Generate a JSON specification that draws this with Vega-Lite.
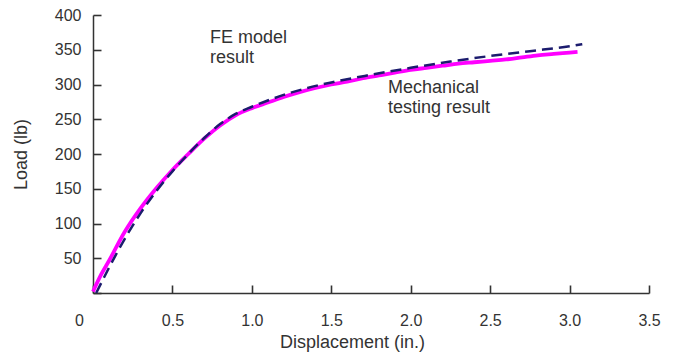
{
  "$schema": "https://vega.github.io/schema/vega-lite/v6.json",
  "width": 556,
  "height": 278,
  "autosize": "none",
  "padding": {"left": 93, "top": 15, "right": 25, "bottom": 71},
  "background": "white",
  "config": {
    "view": {"stroke": null},
    "font": "Liberation Sans",
    "axis": {"labelOverlap": false}
  },
  "datasets": {
    "test": [
      {"d": 0.0, "load": 2}, {"d": 0.05, "load": 26}, {"d": 0.1, "load": 46}, {"d": 0.2, "load": 88},
      {"d": 0.3, "load": 122}, {"d": 0.4, "load": 151}, {"d": 0.5, "load": 177}, {"d": 0.6, "load": 200},
      {"d": 0.7, "load": 222}, {"d": 0.8, "load": 241}, {"d": 0.9, "load": 256}, {"d": 1.0, "load": 266},
      {"d": 1.1, "load": 274}, {"d": 1.2, "load": 282}, {"d": 1.3, "load": 289}, {"d": 1.4, "load": 295},
      {"d": 1.5, "load": 300}, {"d": 1.6, "load": 304}, {"d": 1.7, "load": 309}, {"d": 1.8, "load": 313},
      {"d": 1.9, "load": 317}, {"d": 2.0, "load": 321}, {"d": 2.1, "load": 324}, {"d": 2.2, "load": 327},
      {"d": 2.3, "load": 330}, {"d": 2.4, "load": 332}, {"d": 2.5, "load": 334}, {"d": 2.6, "load": 336},
      {"d": 2.7, "load": 339}, {"d": 2.8, "load": 342}, {"d": 2.9, "load": 344}, {"d": 3.0, "load": 346},
      {"d": 3.05, "load": 347}
    ],
    "fe": [
      {"d": 0.02, "load": 0}, {"d": 0.1, "load": 36}, {"d": 0.2, "load": 78}, {"d": 0.3, "load": 115},
      {"d": 0.4, "load": 147}, {"d": 0.5, "load": 175}, {"d": 0.6, "load": 200}, {"d": 0.7, "load": 223},
      {"d": 0.8, "load": 243}, {"d": 0.9, "load": 258}, {"d": 1.0, "load": 268}, {"d": 1.1, "load": 277},
      {"d": 1.2, "load": 285}, {"d": 1.35, "load": 295}, {"d": 1.5, "load": 303}, {"d": 1.75, "load": 314},
      {"d": 2.0, "load": 324}, {"d": 2.25, "load": 333}, {"d": 2.5, "load": 341}, {"d": 2.75, "load": 348},
      {"d": 3.0, "load": 355}, {"d": 3.08, "load": 358}
    ],
    "labels": [
      {"d": 0.737, "load": 367, "text": "FE model"},
      {"d": 0.737, "load": 338, "text": "result"},
      {"d": 1.857, "load": 295, "text": "Mechanical"},
      {"d": 1.857, "load": 266, "text": "testing result"}
    ]
  },
  "layer": [
    {
      "data": {"name": "test"},
      "mark": {"type": "line", "color": "#ff00ff", "strokeWidth": 3.8, "interpolate": "monotone"},
      "encoding": {
        "x": {
          "field": "d", "type": "quantitative",
          "scale": {"domain": [0, 3.5], "nice": false, "zero": false},
          "axis": {
            "title": "Displacement (in.)",
            "values": [0, 0.5, 1, 1.5, 2, 2.5, 3, 3.5],
            "labelExpr": "datum.value === 0 ? '0' : format(datum.value, '.1f')",
            "labelOffset": {"condition": {"test": "datum.value === 0", "value": -14}, "value": 0},
            "labelFlush": false,
            "grid": false,
            "domainColor": "#333", "domainWidth": 1.5,
            "tickColor": "#333", "tickWidth": 1.6, "tickSize": -8,
            "labelPadding": 27,
            "labelFontSize": 16, "labelColor": "#333",
            "titleFontSize": 18, "titleFontWeight": "normal", "titleColor": "#333",
            "titlePadding": 5, "titleX": 259
          }
        },
        "y": {
          "field": "load", "type": "quantitative",
          "scale": {"domain": [0, 400], "nice": false},
          "axis": {
            "title": "Load (lb)",
            "tickCount": 8,
            "labelExpr": "datum.value === 0 ? '' : datum.label",
            "grid": false,
            "domainColor": "#333", "domainWidth": 1.5,
            "tickColor": "#333", "tickWidth": 1.6, "tickSize": -8,
            "labelPadding": 20,
            "labelFontSize": 16, "labelColor": "#333",
            "titleFontSize": 18, "titleFontWeight": "normal", "titleColor": "#333",
            "titlePadding": 24
          }
        }
      }
    },
    {
      "data": {"name": "fe"},
      "mark": {"type": "line", "color": "#1c1c6e", "strokeWidth": 2.5, "strokeDash": [11, 6], "interpolate": "monotone"},
      "encoding": {
        "x": {"field": "d", "type": "quantitative"},
        "y": {"field": "load", "type": "quantitative"}
      }
    },
    {
      "data": {"name": "labels"},
      "mark": {"type": "text", "align": "left", "baseline": "middle", "fontSize": 18, "color": "#333"},
      "encoding": {
        "x": {"field": "d", "type": "quantitative"},
        "y": {"field": "load", "type": "quantitative"},
        "text": {"field": "text"}
      }
    }
  ]
}
